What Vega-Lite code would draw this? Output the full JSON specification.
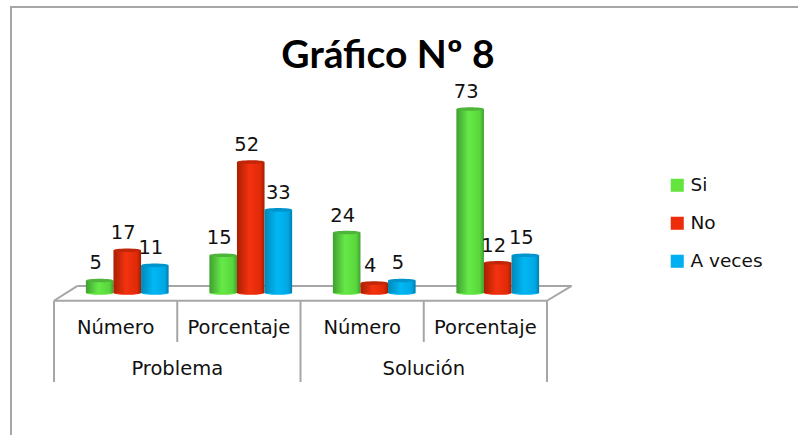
{
"$schema":"https://vega.github.io/schema/vega-lite/v6.json",
"width":800,"height":430,"autosize":{"type":"none"},"padding":{"left":11,"top":7,"right":0,"bottom":0},
"background":"white",
"config":{"view":{"stroke":"#a6a6a6","strokeWidth":2},"font":"DejaVu Sans"},
"title":{"text":"Gráfico Nº 8","font":"Lato","fontSize":39,"fontWeight":"bold","color":"#000000","anchor":"middle","dx":-23,"dy":69,"offset":0},
"datasets":{
"barras":[
{"categoria":"Problema Número","serie":"Si","valor":5},{"categoria":"Problema Número","serie":"No","valor":17},{"categoria":"Problema Número","serie":"A veces","valor":11},
{"categoria":"Problema Porcentaje","serie":"Si","valor":15},{"categoria":"Problema Porcentaje","serie":"No","valor":52},{"categoria":"Problema Porcentaje","serie":"A veces","valor":33},
{"categoria":"Solución Número","serie":"Si","valor":24},{"categoria":"Solución Número","serie":"No","valor":4},{"categoria":"Solución Número","serie":"A veces","valor":5},
{"categoria":"Solución Porcentaje","serie":"Si","valor":73},{"categoria":"Solución Porcentaje","serie":"No","valor":12},{"categoria":"Solución Porcentaje","serie":"A veces","valor":15}
],
"lineas":[
{"a":0,"b":4,"c":-3.04,"d":-3.04},{"a":0.19,"b":4.2,"c":2.84,"d":2.84},{"a":0,"b":0.19,"c":-3.04,"d":2.84},{"a":4,"b":4.2,"c":-3.04,"d":2.84},
{"a":0,"b":0,"c":-3.04,"d":-35.3},{"a":1,"b":1,"c":-3.04,"d":-19.4},{"a":2,"b":2,"c":-3.04,"d":-35.3},{"a":3,"b":3,"c":-3.04,"d":-19.4},{"a":4,"b":4,"c":-3.04,"d":-35.3}
],
"rotulos":[
{"texto":"Número","a":0.5,"c":-13.9},{"texto":"Porcentaje","a":1.5,"c":-13.9},{"texto":"Número","a":2.5,"c":-13.9},{"texto":"Porcentaje","a":3.5,"c":-13.9},
{"texto":"Problema","a":1,"c":-30},{"texto":"Solución","a":3,"c":-30}
]
},
"data":{"name":"barras"},
"resolve":{"scale":{"x":"independent"}},
"encoding":{"y":{"field":"valor","type":"quantitative","axis":null,"stack":null,"scale":{"domain":[-57.1,113.5],"nice":false,"zero":false}}},
"layer":[
{"data":{"name":"lineas"},"mark":{"type":"rule","stroke":"#a6a6a6","strokeWidth":2},
 "encoding":{"x":{"field":"a","type":"quantitative","axis":null,"scale":{"domain":[0,4],"range":[43,536],"nice":false,"zero":false}},"x2":{"field":"b"},"y":{"field":"c","type":"quantitative","axis":null},"y2":{"field":"d"}}},
{"data":{"name":"rotulos"},"mark":{"type":"text","fontSize":19.5,"color":"#111111","baseline":"middle"},
 "encoding":{"x":{"field":"a","type":"quantitative","axis":null,"scale":{"domain":[0,4],"range":[43,536],"nice":false,"zero":false}},"y":{"field":"c","type":"quantitative","axis":null},"text":{"field":"texto"}}},
{"mark":{"type":"point","filled":true,"opacity":1,"shape":"M-1,0A1,0.13,0,1,0,1,0A1,0.13,0,1,0,-1,0Z","size":756},
 "encoding":{"x":{"field":"categoria","type":"nominal","axis":null,"scale":{"domain":["Problema Número","Problema Porcentaje","Solución Número","Solución Porcentaje"],"range":[54.5,548.5],"paddingInner":0.33,"paddingOuter":0.165}},
 "xOffset":{"field":"serie","type":"nominal","scale":{"domain":["Si","No","A veces"]}},
 "y":{"datum":0},
 "color":{"field":"serie","type":"nominal","scale":{"domain":["Si","No","A veces"],"range":["#63e43f","#ec2c0a","#00b0f0"]},
  "legend":{"orient":"none","legendX":657,"legendY":169,"title":null,"symbolType":"square","symbolSize":170,"symbolStrokeWidth":0,"labelFontSize":18.5,"labelColor":"#111111","labelFont":"DejaVu Sans","rowPadding":19,"labelOffset":4,"symbolOpacity":1,"values":["Si","No","A veces"]}}}},
{"transform":[{"filter":"datum.serie==='Si'"}],"mark":{"type":"bar","fill":{"gradient":"linear","x1":0,"x2":1,"y1":0,"y2":0,"stops":[{"offset":0,"color":"#3f9f30"},{"offset":0.45,"color":"#66ea48"},{"offset":0.85,"color":"#58d63c"},{"offset":1,"color":"#3f9f30"}]}},
 "encoding":{"x":{"field":"categoria","type":"nominal","axis":null,"scale":{"domain":["Problema Número","Problema Porcentaje","Solución Número","Solución Porcentaje"],"range":[54.5,548.5],"paddingInner":0.33,"paddingOuter":0.165}},"xOffset":{"field":"serie","type":"nominal","scale":{"domain":["Si","No","A veces"]}}}},
{"transform":[{"filter":"datum.serie==='No'"}],"mark":{"type":"bar","fill":{"gradient":"linear","x1":0,"x2":1,"y1":0,"y2":0,"stops":[{"offset":0,"color":"#a82000"},{"offset":0.45,"color":"#f43210"},{"offset":0.85,"color":"#e02a08"},{"offset":1,"color":"#a01e00"}]}},
 "encoding":{"x":{"field":"categoria","type":"nominal","axis":null,"scale":{"domain":["Problema Número","Problema Porcentaje","Solución Número","Solución Porcentaje"],"range":[54.5,548.5],"paddingInner":0.33,"paddingOuter":0.165}},"xOffset":{"field":"serie","type":"nominal","scale":{"domain":["Si","No","A veces"]}}}},
{"transform":[{"filter":"datum.serie==='A veces'"}],"mark":{"type":"bar","fill":{"gradient":"linear","x1":0,"x2":1,"y1":0,"y2":0,"stops":[{"offset":0,"color":"#0088b8"},{"offset":0.45,"color":"#00b8f4"},{"offset":0.85,"color":"#00a8e4"},{"offset":1,"color":"#007fb0"}]}},
 "encoding":{"x":{"field":"categoria","type":"nominal","axis":null,"scale":{"domain":["Problema Número","Problema Porcentaje","Solución Número","Solución Porcentaje"],"range":[54.5,548.5],"paddingInner":0.33,"paddingOuter":0.165}},"xOffset":{"field":"serie","type":"nominal","scale":{"domain":["Si","No","A veces"]}}}},
{"mark":{"type":"point","filled":true,"opacity":1,"shape":"M-1,0A1,0.13,0,1,0,1,0A1,0.13,0,1,0,-1,0Z","size":756},
 "encoding":{"x":{"field":"categoria","type":"nominal","axis":null,"scale":{"domain":["Problema Número","Problema Porcentaje","Solución Número","Solución Porcentaje"],"range":[54.5,548.5],"paddingInner":0.33,"paddingOuter":0.165}},
 "xOffset":{"field":"serie","type":"nominal","scale":{"domain":["Si","No","A veces"]}},
 "fill":{"field":"serie","type":"nominal","legend":null,"scale":{"domain":["Si","No","A veces"],"range":["#4fb53a","#c02608","#0094cc"]}}}},
{"transform":[{"filter":"datum.valor!==33"}],"mark":{"type":"text","fontSize":19.5,"color":"#111111","dy":-17,"dx":-4,"baseline":"middle"},
 "encoding":{"x":{"field":"categoria","type":"nominal","axis":null,"scale":{"domain":["Problema Número","Problema Porcentaje","Solución Número","Solución Porcentaje"],"range":[54.5,548.5],"paddingInner":0.33,"paddingOuter":0.165}},"xOffset":{"field":"serie","type":"nominal","scale":{"domain":["Si","No","A veces"]}},"text":{"field":"valor"}}},
{"transform":[{"filter":"datum.valor===33"}],"mark":{"type":"text","fontSize":19.5,"color":"#111111","dy":-17,"dx":0,"baseline":"middle"},
 "encoding":{"x":{"field":"categoria","type":"nominal","axis":null,"scale":{"domain":["Problema Número","Problema Porcentaje","Solución Número","Solución Porcentaje"],"range":[54.5,548.5],"paddingInner":0.33,"paddingOuter":0.165}},"xOffset":{"field":"serie","type":"nominal","scale":{"domain":["Si","No","A veces"]}},"text":{"field":"valor"}}}
]
}
